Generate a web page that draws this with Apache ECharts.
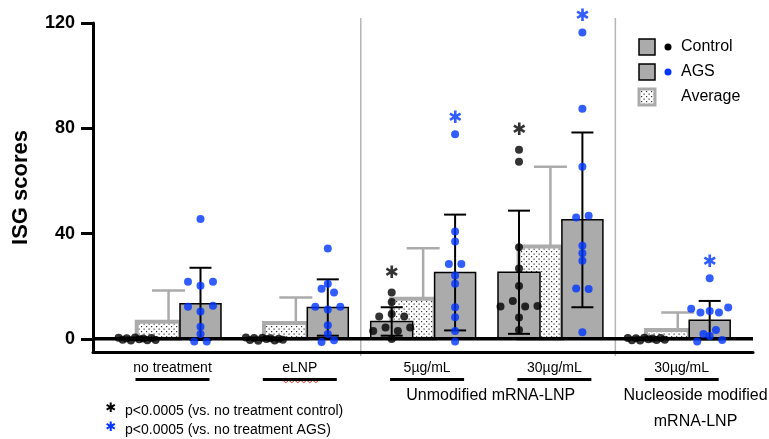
<!DOCTYPE html>
<html>
<head>
<meta charset="utf-8">
<title>ISG scores</title>
<script src="https://cdn.jsdelivr.net/npm/echarts@6/dist/echarts.min.js"></script>
<style>
  html, body { margin: 0; padding: 0; background: #fff; }
  #chart { width: 769px; height: 439px; }
</style>
</head>
<body>
<div id="chart"></div>
<script>
// ---- data ----
var groupNames = ['no treatment', 'eLNP', '5µg/mL', '30µg/mL', '30µg/mL'];
var controlMean = [0.1, 0.1, 6.6, 25.3, 0.1];
var controlSD = [0.4, 0.4, 5.4, 23.4, 0.4];
var agsMean = [13.3, 11.9, 25.2, 45.2, 7.1];
var agsSD = [13.7, 10.7, 22.0, 33.2, 7.3];
var avgMean = [6.5, 6.0, 15.2, 35.1, 3.4];
var avgSD = [11.9, 9.7, 19.2, 30.3, 6.6];
var controlDots = [
  [0.4, -0.3, 0.2, -0.6, 0.5, -0.2, 0.1, -0.5, 0.3, -0.4],
  [0.5, -0.4, 0.3, -0.7, 0.4, -0.1, 0.2, -0.6, 0.0, -0.3],
  [17.6, 14.0, 8.5, 9.4, 8.5, 3.0, 4.3, 3.0, 4.3, -0.1],
  [71.8, 67.3, 34.8, 26.7, 20.1, 12.3, 14.4, 12.3, 12.5, 8.1, 3.4],
  [0.3, -0.5, 0.2, -0.6, 0.4, -0.2, 0.1, -0.4, 0.3, -0.3]
];
var agsDots = [
  [45.5, 21.7, 20.2, 21.7, 12.2, 10.4, 12.6, 4.6, 1.8, -1.0, -1.0],
  [34.3, 20.9, 19.0, 17.6, 12.2, 11.1, 12.2, 5.2, 1.8, -1.2, -0.5],
  [77.7, 40.8, 37.0, 28.4, 28.4, 24.1, 20.9, 12.0, 8.2, 3.0, -1.0],
  [116.4, 87.4, 65.4, 46.1, 46.8, 35.4, 32.5, 29.7, 19.1, 18.9, 2.5],
  [23.0, 11.4, 10.0, 10.6, 10.0, 11.9, 1.8, 3.4, -1.0, 1.1, -0.4]
];
var controlSig = [false, false, true, true, false];
var agsSig = [false, false, true, true, true];
var yTicks = [0, 40, 80, 120];

// ---- layout ----
var FONT = 'Liberation Sans, Arial, sans-serif';
var STAR_FONT = 'DejaVu Sans, sans-serif';
var PX_X = 127.3;              // px per group
var PX_Y = 329 / 125;          // px per score unit
var X_MIN = -87 / PX_X, X_MAX = 573 / PX_X;
var CTRL = [-0.502, -0.172];   // bar extents relative to group position
var AVG = [-0.34, 0];
var AGS = [0, 0.322];
var CTRL_C = -0.337, AGS_C = 0.161, AVG_ERR = -0.09;
var LABEL_DX = -0.059;
var DOT_STEP = 12.5 / PX_X, ROW_MAX = 37 / PX_X, ROW_TOL = 6 / PX_Y;
var GREY = '#ababab', BLUE = '#0036ff';

// dotted fill for the Average bars
var pat = document.createElement('canvas');
pat.width = 5; pat.height = 5;
var pc = pat.getContext('2d');
pc.fillStyle = '#fff'; pc.fillRect(0, 0, 5, 5);
pc.fillStyle = '#333';
pc.fillRect(1, 1, 1.2, 1.2);
pc.fillRect(3.5, 3.5, 1.2, 1.2);
var dotted = { image: pat, repeat: 'repeat' };

// GraphPad-like row swarm
function swarm(values, center) {
  var idx = values.map(function (v, i) { return i; })
    .sort(function (a, b) { return values[a] - values[b]; });
  var rows = [], cur = null;
  idx.forEach(function (i) {
    if (cur && values[i] - values[cur[0]] <= ROW_TOL) cur.push(i);
    else { cur = [i]; rows.push(cur); }
  });
  var out = [];
  rows.forEach(function (r) {
    r.sort(function (a, b) { return a - b; });
    var n = r.length;
    var step = n > 1 ? Math.min(DOT_STEP, ROW_MAX / (n - 1)) : 0;
    r.forEach(function (i, k) {
      out.push([center + (k - (n - 1) / 2) * step, values[i]]);
    });
  });
  return out;
}

var ctrlPts = [], agsPts = [], ctrlStars = [], agsStars = [];
controlDots.forEach(function (vals, g) {
  var pts = swarm(vals, g + CTRL_C);
  ctrlPts = ctrlPts.concat(pts);
  if (controlSig[g]) ctrlStars.push(pts.reduce(function (a, b) { return b[1] > a[1] ? b : a; }));
});
agsDots.forEach(function (vals, g) {
  var pts = swarm(vals, g + AGS_C);
  agsPts = agsPts.concat(pts);
  if (agsSig[g]) agsStars.push(pts.reduce(function (a, b) { return b[1] > a[1] ? b : a; }));
});

function barSeries(name, means, ext, style, z) {
  return {
    type: 'custom', name: name, z: z,
    data: means.map(function (m, i) { return [i, m]; }),
    renderItem: function (params, api) {
      var a = api.coord([api.value(0) + ext[0], api.value(1)]);
      var b = api.coord([api.value(0) + ext[1], 0]);
      return {
        type: 'rect',
        shape: { x: a[0], y: a[1], width: b[0] - a[0], height: b[1] - a[1] },
        style: style
      };
    }
  };
}

function errSeries(means, sds, dx, cap, color, width, upOnly, z) {
  return {
    type: 'custom', z: z,
    data: means.map(function (m, i) { return [i, m, sds[i]]; }),
    renderItem: function (params, api) {
      var x = api.value(0) + dx, m = api.value(1), s = api.value(2);
      var top = api.coord([x, m + s]);
      var bot = api.coord([x, upOnly ? m : m - s]);
      var st = { stroke: color, lineWidth: width };
      var kids = [
        { type: 'line', shape: { x1: top[0], y1: top[1], x2: bot[0], y2: bot[1] }, style: st },
        { type: 'line', shape: { x1: top[0] - cap, y1: top[1], x2: top[0] + cap, y2: top[1] }, style: st }
      ];
      if (!upOnly) kids.push({ type: 'line', shape: { x1: bot[0] - cap, y1: bot[1], x2: bot[0] + cap, y2: bot[1] }, style: st });
      return { type: 'group', children: kids };
    }
  };
}

function starSeries(pts, color, dy) {
  return {
    type: 'scatter', z: 6, clip: false, symbolSize: 0, silent: true,
    data: pts,
    label: {
      show: true, position: 'inside', offset: [0, dy], formatter: '\u2731',
      color: color, fontSize: 17, fontFamily: STAR_FONT
    }
  };
}

var chart = echarts.init(document.getElementById('chart'));
chart.setOption({
  animation: false,
  backgroundColor: '#fff',
  grid: { left: 93, right: 16, top: 23, bottom: 87 },
  xAxis: {
    type: 'value', min: X_MIN, max: X_MAX,
    axisLine: { onZero: false, lineStyle: { color: '#000', width: 3 } },
    axisTick: { show: false },
    splitLine: { show: false },
    axisLabel: {
      customValues: groupNames.map(function (n, i) { return i + LABEL_DX; }),
      margin: 8,
      formatter: function (v) {
        return '{t|' + groupNames[Math.round(v - LABEL_DX)] + '}\n{u| }';
      },
      rich: {
        t: { fontSize: 14, lineHeight: 17, color: '#000', fontFamily: FONT },
        u: { width: 74, height: 3, lineHeight: 5, backgroundColor: '#000' }
      }
    }
  },
  yAxis: {
    type: 'value', min: -5, max: 120,
    name: 'ISG scores', nameLocation: 'middle', nameGap: 61,
    nameTextStyle: { fontSize: 22, fontWeight: 'bold', color: '#000', fontFamily: FONT },
    axisLine: { onZero: false, lineStyle: { color: '#000', width: 3 } },
    axisTick: { length: 12, customValues: yTicks, lineStyle: { color: '#000', width: 3 } },
    axisLabel: { customValues: yTicks, margin: 18, fontSize: 18, fontWeight: 'bold', color: '#000', fontFamily: FONT },
    splitLine: { show: false }
  },
  series: [
    barSeries('Average', avgMean, AVG, { fill: dotted, stroke: GREY, lineWidth: 4 }, 1),
    errSeries(avgMean, avgSD, AVG_ERR, 16.5, GREY, 2.5, true, 1),
    barSeries('Control', controlMean, CTRL, { fill: GREY, stroke: '#000', lineWidth: 1.5 }, 2),
    barSeries('AGS', agsMean, AGS, { fill: GREY, stroke: '#000', lineWidth: 1.5 }, 2),
    {
      type: 'line', z: 3, silent: true, symbol: 'none',
      data: [[X_MIN, 0], [X_MAX, 0]],
      lineStyle: { color: '#000', width: 3.5 }
    },
    errSeries(controlMean, controlSD, CTRL_C, 11, '#000', 2, false, 4),
    errSeries(agsMean, agsSD, AGS_C, 11, '#000', 2, false, 4),
    { type: 'scatter', name: 'Control dots', z: 5, data: ctrlPts, symbolSize: 8, itemStyle: { color: '#000' } },
    { type: 'scatter', name: 'AGS dots', z: 5, data: agsPts, symbolSize: 8, itemStyle: { color: BLUE } },
    starSeries(ctrlStars, '#000', -19),
    starSeries(agsStars, BLUE, -16)
  ]
});

// separators, titles, legend, footnote
function px(x, y) { return chart.convertToPixel({ gridIndex: 0 }, [x, y]); }
var sepX = [1.42, 3.42];
var g = [];
sepX.forEach(function (s) {
  var p = px(s, 0);
  g.push({ type: 'line', shape: { x1: p[0], y1: 18, x2: p[0], y2: 356 }, style: { stroke: '#b5b5b5', lineWidth: 1.5 } });
});
var unmod = px(2.5 + LABEL_DX, 0)[0];
var nuc = px(4 + 0.05, 0)[0];
g.push({ type: 'text', x: unmod, y: 396, style: { text: 'Unmodified mRNA-LNP', font: '16px ' + FONT, fill: '#000', align: 'center', verticalAlign: 'middle' } });
g.push({ type: 'text', x: nuc, y: 409, style: { text: 'Nucleoside modified\nmRNA-LNP', font: '16px ' + FONT, lineHeight: 26, fill: '#000', align: 'center', verticalAlign: 'middle' } });

// red spell-check squiggle under eLNP
var ex = px(1 + LABEL_DX, 0)[0];
var zz = [];
for (var k = 0; k <= 12; k++) zz.push([ex - 17 + k * 3, 381.5 + (k % 2 ? 1.2 : -1.2)]);
g.push({ type: 'polyline', shape: { points: zz }, style: { stroke: '#e23a3a', lineWidth: 1, fill: null } });

// legend
var legend = [
  { label: 'Control', y: 47, fill: GREY, stroke: '#000', lw: 1.5, dot: '#000' },
  { label: 'AGS', y: 72, fill: GREY, stroke: '#000', lw: 1.5, dot: BLUE },
  { label: 'Average', y: 97, fill: dotted, stroke: GREY, lw: 3, dot: null }
];
legend.forEach(function (it) {
  g.push({ type: 'rect', shape: { x: 639, y: it.y - 8, width: 16, height: 16 }, style: { fill: it.fill, stroke: it.stroke, lineWidth: it.lw } });
  if (it.dot) g.push({ type: 'circle', shape: { cx: 668, cy: it.y, r: 3.5 }, style: { fill: it.dot } });
  g.push({ type: 'text', x: 681, y: it.y, style: { text: it.label, font: '16px ' + FONT, fill: '#000', verticalAlign: 'middle' } });
});

// footnote
[['#000', 'p<0.0005 (vs. no treatment control)', 411], [BLUE, 'p<0.0005 (vs. no treatment AGS)', 430]].forEach(function (f) {
  g.push({ type: 'text', x: 111, y: f[2] - 2, style: { text: '\u2731', font: '13px ' + STAR_FONT, fill: f[0], align: 'center', verticalAlign: 'middle' } });
  g.push({ type: 'text', x: 125, y: f[2], style: { text: f[1], font: '14px ' + FONT, fill: '#000', verticalAlign: 'middle' } });
});
chart.setOption({ graphic: g });
</script>
</body>
</html>
